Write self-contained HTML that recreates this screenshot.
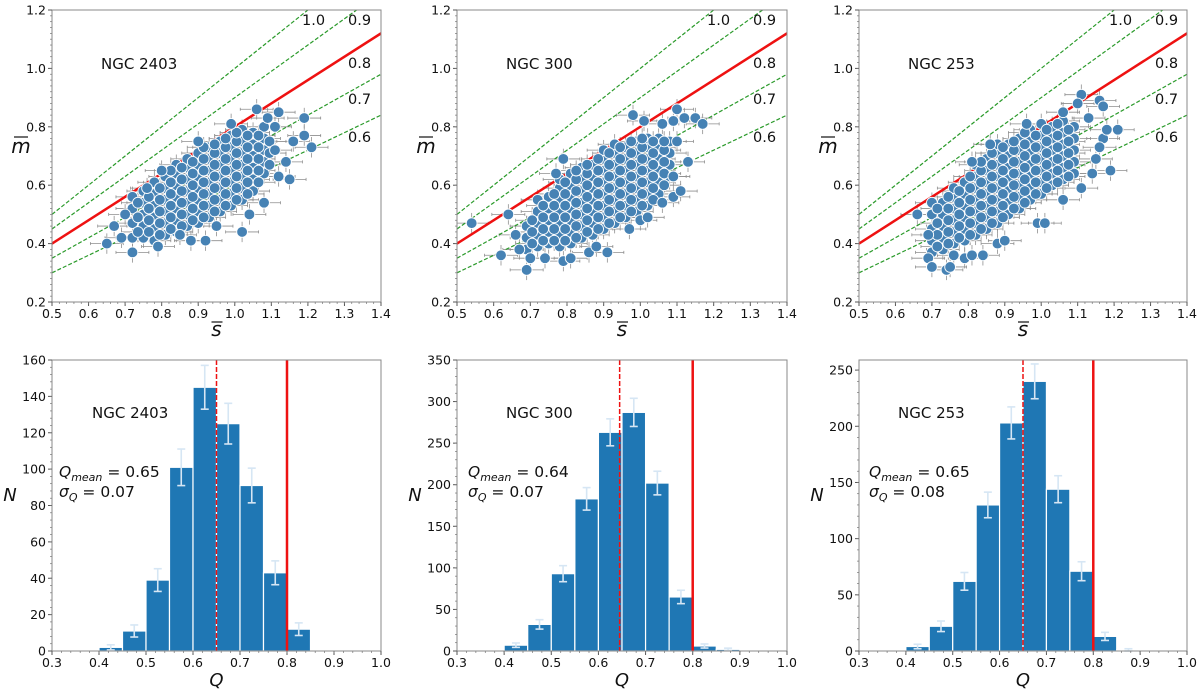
<!DOCTYPE html>
<html><head><meta charset="utf-8"><style>
body{margin:0;background:#fff;}
svg{display:block;font-family:"DejaVu Sans","Liberation Sans",sans-serif;}
</style></head><body>
<svg id="fig" width="1200" height="693" viewBox="0 0 1200 693" xmlns="http://www.w3.org/2000/svg"></svg>
<script>
// ---------- data ----------
const galaxyNames = ["NGC 2403","NGC 300","NGC 253"];
const qMeans = [0.65,0.64,0.65];
const qSigmas = [0.07,0.07,0.08];
const qMeanLinePos = [0.65,0.645,0.65];
const qThreshold = 0.8;
const qLines = [1.0,0.9,0.8,0.7,0.6];
const binStarts = [0.40,0.45,0.50,0.55,0.60,0.65,0.70,0.75,0.80,0.85];
const counts2403 = [2,11,39,101,145,125,91,43,12,0];
const counts300 = [7,32,93,183,263,287,202,65,6,2];
const counts253 = [4,22,62,130,203,240,144,71,13,1];
const nMax = [160,350,259];
const nTicks2403 = [0,20,40,60,80,100,120,140,160];
const nTicks300 = [0,50,100,150,200,250,300,350];
const nTicks253 = [0,50,100,150,200,250];
const sTicks = [0.5,0.6,0.7,0.8,0.9,1.0,1.1,1.2,1.3,1.4];
const mTicks = [0.2,0.4,0.6,0.8,1.0,1.2];
const qTicks = [0.3,0.4,0.5,0.6,0.7,0.8,0.9,1.0];
// scatter columns: [s, [m values]]
const cols2403 = [[0.72,[0.42,0.47,0.52,0.56]],[0.75,[0.42,0.46,0.50,0.54,0.58]],[0.78,[0.41,0.45,0.49,0.53,0.57,0.61]],[0.81,[0.43,0.47,0.51,0.55,0.59,0.63]],[0.84,[0.44,0.48,0.52,0.56,0.60,0.64,0.67]],[0.87,[0.46,0.50,0.54,0.58,0.62,0.66,0.69]],[0.90,[0.47,0.51,0.55,0.59,0.63,0.67,0.71]],[0.93,[0.49,0.53,0.57,0.61,0.65,0.69,0.73]],[0.96,[0.51,0.55,0.59,0.63,0.67,0.71,0.75]],[0.99,[0.53,0.57,0.61,0.65,0.69,0.73,0.77]],[1.02,[0.55,0.59,0.63,0.67,0.71,0.75,0.79]],[1.05,[0.58,0.62,0.66,0.70,0.74,0.78]],[1.08,[0.64,0.68,0.72,0.76,0.80]]];
const colsB2403 = [[0.735,[0.44,0.49,0.54]],[0.765,[0.44,0.48,0.52,0.56]],[0.795,[0.43,0.47,0.51,0.55,0.59]],[0.825,[0.45,0.49,0.53,0.57,0.61,0.65]],[0.855,[0.46,0.50,0.54,0.58,0.62,0.66]],[0.885,[0.48,0.52,0.56,0.60,0.64,0.68]],[0.915,[0.49,0.53,0.57,0.61,0.65,0.69,0.73]],[0.945,[0.51,0.55,0.59,0.63,0.67,0.71,0.74]],[0.975,[0.53,0.57,0.61,0.65,0.69,0.73,0.76]],[1.005,[0.55,0.59,0.63,0.67,0.71,0.75,0.78]],[1.035,[0.57,0.61,0.65,0.69,0.73,0.77]],[1.065,[0.61,0.65,0.69,0.73,0.77]],[1.095,[0.67,0.71,0.75]]];
const out2403 = [[0.65,0.40],[0.67,0.46],[0.72,0.37],[0.70,0.50],[0.69,0.42],[0.79,0.39],[0.85,0.43],[0.88,0.41],[0.92,0.41],[0.95,0.46],[1.02,0.44],[1.04,0.50],[1.08,0.54],[1.12,0.63],[1.15,0.62],[1.14,0.68],[1.11,0.72],[1.16,0.75],[1.19,0.77],[1.19,0.83],[1.21,0.73],[1.12,0.85],[1.06,0.86],[1.09,0.83],[0.99,0.81],[1.11,0.80],[0.90,0.75],[0.80,0.65],[0.76,0.59]];
const cols300 = [[0.69,[0.38,0.42,0.46]],[0.72,[0.39,0.43,0.47,0.51,0.55]],[0.75,[0.40,0.44,0.48,0.52,0.56]],[0.78,[0.39,0.43,0.47,0.51,0.55,0.59,0.62]],[0.81,[0.40,0.44,0.48,0.52,0.56,0.60,0.64]],[0.84,[0.42,0.46,0.50,0.54,0.58,0.62,0.66]],[0.87,[0.43,0.47,0.51,0.55,0.59,0.63,0.67]],[0.90,[0.45,0.49,0.53,0.57,0.61,0.65,0.69,0.72]],[0.93,[0.47,0.51,0.55,0.59,0.63,0.67,0.71,0.74]],[0.96,[0.49,0.53,0.57,0.61,0.65,0.69,0.73]],[0.99,[0.51,0.55,0.59,0.63,0.67,0.71,0.75]],[1.02,[0.53,0.57,0.61,0.65,0.69,0.73,0.76]],[1.05,[0.57,0.61,0.65,0.69,0.73,0.76]],[1.08,[0.63,0.67,0.71,0.75]]];
const colsB300 = [[0.705,[0.40,0.44,0.48]],[0.735,[0.41,0.45,0.49,0.53]],[0.765,[0.41,0.45,0.49,0.53,0.57]],[0.795,[0.41,0.45,0.49,0.53,0.57,0.61]],[0.825,[0.42,0.46,0.50,0.54,0.58,0.62,0.65]],[0.855,[0.44,0.48,0.52,0.56,0.60,0.64,0.67]],[0.885,[0.45,0.49,0.53,0.57,0.61,0.65,0.69]],[0.915,[0.47,0.51,0.55,0.59,0.63,0.67,0.71]],[0.945,[0.49,0.53,0.57,0.61,0.65,0.69,0.73]],[0.975,[0.51,0.55,0.59,0.63,0.67,0.71,0.75]],[1.005,[0.53,0.57,0.61,0.65,0.69,0.73,0.76]],[1.035,[0.55,0.59,0.63,0.67,0.71,0.75]],[1.065,[0.60,0.64,0.68,0.72,0.75]]];
const out300 = [[0.54,0.47],[0.62,0.36],[0.64,0.50],[0.66,0.43],[0.67,0.38],[0.69,0.31],[0.70,0.35],[0.74,0.35],[0.79,0.34],[0.81,0.35],[0.86,0.37],[0.88,0.39],[0.91,0.37],[0.97,0.45],[1.00,0.48],[1.02,0.49],[1.06,0.54],[1.09,0.56],[1.11,0.58],[1.13,0.68],[1.09,0.63],[1.12,0.83],[1.15,0.83],[1.17,0.81],[1.10,0.86],[1.09,0.82],[1.06,0.81],[0.98,0.84],[1.01,0.82],[0.79,0.69],[0.77,0.64],[1.10,0.75]];
const cols253 = [[0.70,[0.37,0.41,0.45,0.50,0.54]],[0.73,[0.38,0.42,0.46,0.50,0.54]],[0.76,[0.40,0.44,0.48,0.52,0.56,0.59]],[0.79,[0.41,0.45,0.49,0.53,0.57,0.61]],[0.82,[0.43,0.47,0.51,0.55,0.59,0.63,0.67]],[0.85,[0.45,0.49,0.53,0.57,0.61,0.65,0.69]],[0.88,[0.47,0.51,0.55,0.59,0.63,0.67,0.71,0.74]],[0.91,[0.50,0.54,0.58,0.62,0.66,0.70,0.74]],[0.94,[0.52,0.56,0.60,0.64,0.68,0.72,0.76]],[0.97,[0.55,0.59,0.63,0.67,0.71,0.75,0.79]],[1.00,[0.57,0.61,0.65,0.69,0.73,0.77,0.81]],[1.03,[0.60,0.64,0.68,0.72,0.76,0.80]],[1.06,[0.62,0.66,0.70,0.74,0.78,0.82]],[1.09,[0.64,0.68,0.72,0.76,0.80]]];
const colsB253 = [[0.715,[0.39,0.43,0.47,0.52]],[0.745,[0.40,0.44,0.48,0.52,0.56]],[0.775,[0.42,0.46,0.50,0.54,0.58]],[0.805,[0.43,0.47,0.51,0.55,0.59,0.63]],[0.835,[0.45,0.49,0.53,0.57,0.61,0.65,0.68]],[0.865,[0.47,0.51,0.55,0.59,0.63,0.67,0.71]],[0.895,[0.49,0.53,0.57,0.61,0.65,0.69,0.73]],[0.925,[0.52,0.56,0.60,0.64,0.68,0.72,0.75]],[0.955,[0.54,0.58,0.62,0.66,0.70,0.74,0.78]],[0.985,[0.57,0.61,0.65,0.69,0.73,0.77]],[1.015,[0.59,0.63,0.67,0.71,0.75,0.79]],[1.045,[0.61,0.65,0.69,0.73,0.77,0.81]],[1.075,[0.63,0.67,0.71,0.75,0.79]]];
const out253 = [[0.66,0.50],[0.69,0.35],[0.70,0.32],[0.69,0.43],[0.74,0.31],[0.75,0.32],[0.76,0.36],[0.79,0.35],[0.81,0.36],[0.84,0.36],[0.88,0.40],[0.90,0.41],[0.99,0.47],[1.01,0.47],[1.06,0.55],[1.11,0.59],[1.14,0.64],[1.15,0.69],[1.19,0.65],[1.17,0.76],[1.18,0.79],[1.21,0.79],[1.16,0.73],[1.13,0.83],[1.11,0.91],[1.10,0.88],[1.16,0.89],[1.17,0.87],[1.06,0.85],[0.96,0.81],[0.86,0.74],[0.81,0.68]];

const allCounts = [counts2403,counts300,counts253];
const allNTicks = [nTicks2403,nTicks300,nTicks253];
const allCols = [cols2403,cols300,cols253];
const allColsB = [colsB2403,colsB300,colsB253];
const allOut = [out2403,out300,out253];

// ---------- layout ----------
const NS = "http://www.w3.org/2000/svg";
const svg = document.getElementById("fig");
const panelX0 = [52,457,859], panelX1 = [381,787,1187];
const topY0 = 10, topY1 = 302, botY0 = 360, botY1 = 651;

function mk(tag, attrs, parent){
  const e = document.createElementNS(NS, tag);
  for (const k in attrs) e.setAttribute(k, attrs[k]);
  (parent||svg).appendChild(e);
  return e;
}
function txt(str, x, y, size, anchor, parent, extra){
  const t = mk("text", Object.assign({x:x, y:y, "font-size":size, "text-anchor":anchor||"start", fill:"#111"}, extra||{}), parent);
  t.textContent = str;
  return t;
}

for (let p=0; p<3; p++){
  const x0 = panelX0[p], x1 = panelX1[p];
  // ===== scatter panel =====
  const sx = v => x0 + (v-0.5)/(1.4-0.5)*(x1-x0);
  const my = v => topY1 - (v-0.2)/(1.2-0.2)*(topY1-topY0);
  const g = mk("g", {});
  
  
  const clipId = "clip"+p;
  const cp = mk("clipPath", {id:clipId}, g);
  mk("rect", {x:x0, y:topY0, width:x1-x0, height:topY1-topY0}, cp);
  const inner = mk("g", {"clip-path":"url(#"+clipId+")"}, g);
  const pts = [];
  allCols[p].forEach(c => c[1].forEach(m => pts.push([c[0], m])));
  allColsB[p].forEach(c => c[1].forEach(m => pts.push([c[0], m])));
  allOut[p].forEach(o => pts.push(o));
  const eg = mk("g", {stroke:"#444", "stroke-width":0.8, opacity:0.6}, inner);
  
  
  pts.forEach(pt => {
    const cx = sx(pt[0]), cy = my(pt[1]);
    const ex = sx(pt[0]+0.045)-cx, ey = cy-my(pt[1]+0.035);
    mk("line", {x1:cx-ex, x2:cx+ex, y1:cy, y2:cy}, eg);
    mk("line", {x1:cx, x2:cx, y1:cy-ey, y2:cy+ey}, eg);
    mk("line", {x1:cx-ex, x2:cx-ex, y1:cy-1.5, y2:cy+1.5}, eg);
    mk("line", {x1:cx+ex, x2:cx+ex, y1:cy-1.5, y2:cy+1.5}, eg);
  });
  qLines.forEach(q => {
    const ln = mk("line", {x1:sx(0.5), y1:my(0.5*q), x2:sx(1.4), y2:my(1.4*q),
      stroke: q===0.8 ? "#ee1111" : "#2a9a2a", "stroke-width": q===0.8 ? 2.5 : 1.2,
      "stroke-dasharray": q===0.8 ? "none" : "4,2"}, inner);
    
    
  });
  const dg = mk("g", {fill:"#4682b4", stroke:"#ffffff", "stroke-width":0.9}, inner);
  
  
  pts.forEach(pt => {
    const c = mk("circle", {cx:sx(pt[0]), cy:my(pt[1]), r:5.4}, dg);
    
    
  });
  mk("rect", {x:x0, y:topY0, width:x1-x0, height:topY1-topY0, fill:"none", stroke:"#888", "stroke-width":1}, g);
  sTicks.forEach(v => {
    mk("line", {x1:sx(v), x2:sx(v), y1:topY1, y2:topY1+4, stroke:"#555"}, g);
    const t = txt(v.toFixed(1), sx(v), topY1+16, 12.5, "middle", g);
    
    
  });
  for (let v=0.52; v<1.4; v+=0.02){ mk("line", {x1:sx(v), x2:sx(v), y1:topY1, y2:topY1+2, stroke:"#777", "stroke-width":0.7}, g); }
  mTicks.forEach(v => {
    mk("line", {x1:x0-4, x2:x0, y1:my(v), y2:my(v), stroke:"#555"}, g);
    const t = txt(v.toFixed(1), x0-6, my(v)+4.5, 12.5, "end", g);
    
    
  });
  for (let v=0.22; v<1.2; v+=0.02){ mk("line", {x1:x0-2, x2:x0, y1:my(v), y2:my(v), stroke:"#777", "stroke-width":0.7}, g); }
  const lbl = [["1.0",250,25],["0.9",296,25],["0.8",296,68],["0.7",296,104],["0.6",296,142]];
  lbl.forEach(l => {
    const t = txt(l[0], x0+l[1], l[2], 14.5, "start", g);
    
    
  });
  const nm = txt(galaxyNames[p], [101,506,908][p], 69, 15, "start", g);
  
  
  const yt = txt("m", x0-31, 153, 20, "middle", g, {"font-style":"italic"});
  
  
  mk("line", {x1:x0-38, x2:x0-24, y1:137, y2:137, stroke:"#111", "stroke-width":1.2}, g);
  const xt = txt("s", (x0+x1)/2, 336, 20, "middle", g, {"font-style":"italic"});
  
  
  mk("line", {x1:(x0+x1)/2-5, x2:(x0+x1)/2+6, y1:322, y2:322, stroke:"#111", "stroke-width":1.2}, g);

  // ===== histogram panel =====
  const qx = v => x0 + (v-0.3)/(1.0-0.3)*(x1-x0);
  const ny = v => botY1 - v/nMax[p]*(botY1-botY0);
  const h = mk("g", {});
  
  
  const counts = allCounts[p];
  binStarts.forEach((b,i) => {
    const n = counts[i];
    const r = mk("rect", {x:qx(b), y:ny(n), width:qx(b+0.05)-qx(b), height:botY1-ny(n), fill:"#1f77b4", stroke:"#ffffff", "stroke-width":1.2}, h);
    
    
  });
  binStarts.forEach((b,i) => {
    const n = counts[i]; if (n<=0) return;
    const e = Math.sqrt(n), cx = qx(b+0.025);
    const eb = mk("g", {stroke:"#d6e6f4", "stroke-width":1.6}, h);
    
    
    mk("line", {x1:cx, x2:cx, y1:ny(n+e), y2:ny(Math.max(0,n-e))}, eb);
    mk("line", {x1:cx-4, x2:cx+4, y1:ny(n+e), y2:ny(n+e)}, eb);
    mk("line", {x1:cx-4, x2:cx+4, y1:ny(Math.max(0,n-e)), y2:ny(Math.max(0,n-e))}, eb);
  });
  const ml = mk("line", {x1:qx(qMeanLinePos[p]), x2:qx(qMeanLinePos[p]), y1:botY0, y2:botY1, stroke:"#ee1111", "stroke-width":1.5, "stroke-dasharray":"5,2"}, h);
  
  
  const tl = mk("line", {x1:qx(qThreshold), x2:qx(qThreshold), y1:botY0, y2:botY1, stroke:"#ee1111", "stroke-width":2.5}, h);
  
  
  mk("rect", {x:x0, y:botY0, width:x1-x0, height:botY1-botY0, fill:"none", stroke:"#888", "stroke-width":1}, h);
  qTicks.forEach(v => {
    mk("line", {x1:qx(v), x2:qx(v), y1:botY1, y2:botY1+4, stroke:"#555"}, h);
    const t = txt(v.toFixed(1), qx(v), botY1+16, 12.5, "middle", h);
    
    
  });
  for (let v=0.32; v<1.0; v+=0.02){ mk("line", {x1:qx(v), x2:qx(v), y1:botY1, y2:botY1+2, stroke:"#777", "stroke-width":0.7}, h); }
  const nt = allNTicks[p];
  nt.forEach(v => {
    mk("line", {x1:x0-4, x2:x0, y1:ny(v), y2:ny(v), stroke:"#555"}, h);
    const t = txt(String(v), x0-6, ny(v)+4.5, 12.5, "end", h);
    
    
  });
  const minor = (nt[1]-nt[0])/5;
  for (let v=minor; v<nMax[p]; v+=minor){ mk("line", {x1:x0-2, x2:x0, y1:ny(v), y2:ny(v), stroke:"#777", "stroke-width":0.7}, h); }
  const hn = txt(galaxyNames[p], [92,506,898][p], 418, 15, "start", h);
  
  
  const qxPos = [59,468,869][p];
  const qm = mk("text", {x:qxPos, y:477, "font-size":15.5, fill:"#111"}, h);
  
  
  qm.innerHTML = '<tspan font-style="italic">Q</tspan><tspan font-style="italic" font-size="11" dy="4">mean</tspan><tspan dy="-4"> = ' + qMeans[p].toFixed(2) + '</tspan>';
  const sq = mk("text", {x:qxPos, y:497, "font-size":15.5, fill:"#111"}, h);
  
  
  sq.innerHTML = '<tspan font-style="italic">σ</tspan><tspan font-style="italic" font-size="11" dy="4">Q</tspan><tspan dy="-4"> = ' + qSigmas[p].toFixed(2) + '</tspan>';
  const ny2 = txt("N", x0-42, 501, 18, "middle", h, {"font-style":"italic"});
  
  
  const qt = txt("Q", (x0+x1)/2, 686, 18, "middle", h, {"font-style":"italic"});
  
  
}
</script>
</body></html>
